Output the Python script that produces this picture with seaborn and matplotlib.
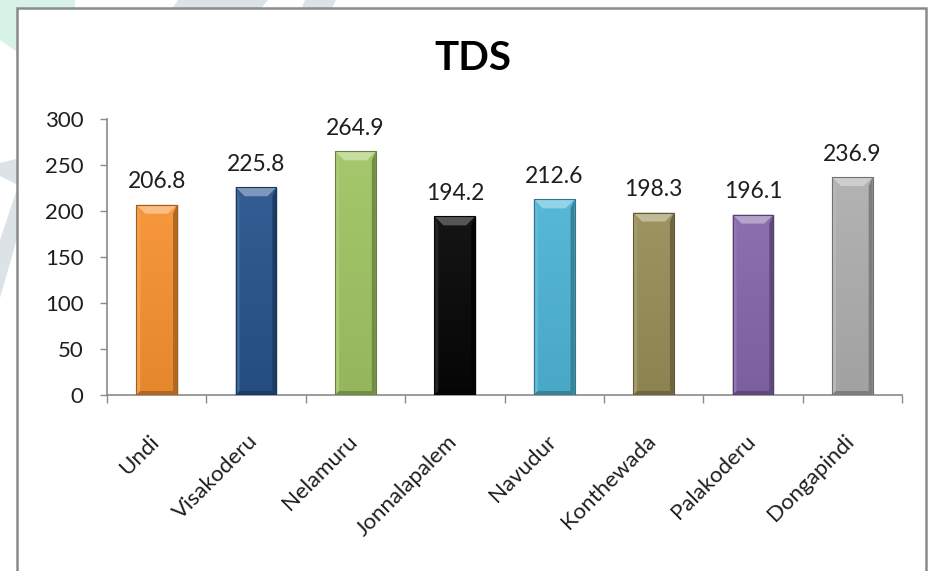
import numpy as np
import matplotlib
matplotlib.use("Agg")
import matplotlib.pyplot as plt
import matplotlib.colors as mcolors
import matplotlib.transforms as mtransforms
from matplotlib.patches import Rectangle, Polygon
import seaborn as sns

# --- data -------------------------------------------------------------
sites = ["Undi", "Visakoderu", "Nelamuru", "Jonnalapalem",
         "Navudur", "Konthewada", "Palakoderu", "Dongapindi"]
tds = [206.8, 225.8, 264.9, 194.2, 212.6, 198.3, 196.1, 236.9]
bar_colors = ["#F6912F", "#27538C", "#A0C463", "#060606",
              "#4DB4D4", "#978D57", "#8466AA", "#AEAEAE"]
y_ticks = [0, 50, 100, 150, 200, 250, 300]

W, H = 934, 571
sns.set_theme(style="white")
plt.rcParams["font.family"] = ["Lato", "DejaVu Sans"]

fig = plt.figure(figsize=(W / 100, H / 100), dpi=100)
fig.patch.set_facecolor("white")


def px(x, y):
    """pixel position (top-left origin) -> figure fraction"""
    return (x / W, 1 - y / H)


# faint background logo shapes around the chart frame
for pts, col in [
    ([(0, 0), (75, 0), (75, 10), (17, 52), (0, 40)], "#D9F2E8"),
    ([(178, 0), (268, 0), (258, 12), (170, 12)], "#DCE3E6"),
    ([(305, 0), (336, 0), (330, 12), (300, 12)], "#DCE3E6"),
    ([(0, 163), (20, 158), (20, 186), (0, 176)], "#DCE3E6"),
    ([(20, 180), (20, 228), (0, 298), (0, 240)], "#DCE3E6"),
]:
    fig.patches.append(Polygon([px(*p) for p in pts], closed=True,
                               transform=fig.transFigure, facecolor=col,
                               edgecolor="none", zorder=0))

# chart frame
x0f, y0f = px(17, 8)
fig.patches.append(Rectangle((x0f, -0.05), 909 / W, y0f + 0.05,
                             transform=fig.transFigure, facecolor="white",
                             edgecolor="#8A8A8A", linewidth=1.8, zorder=1))

ax = fig.add_axes([107 / W, (H - 395) / H, (902 - 107) / W, (395 - 119) / H])
ax.set_facecolor("none")
ax.set_zorder(2)

sns.barplot(x=sites, y=tds, hue=sites, palette=bar_colors, legend=False,
            width=0.41, ax=ax, saturation=1)

ax.set_ylim(0, 300)
ax.set_xlim(-0.5, len(sites) - 0.5)
ax.set_yticks(y_ticks)
ax.set_yticklabels([str(v) for v in y_ticks], fontsize=16, color="#1E1E1E")

# category boundary ticks on the x axis
ax.set_xticks(np.arange(len(sites)))
ax.set_xticks(np.arange(len(sites) + 1) - 0.5, minor=True)
ax.tick_params(axis="x", which="major", length=0, pad=26)
ax.tick_params(axis="x", which="minor", length=6, width=1, color="#8A8A8A",
               direction="out", bottom=True)
ax.tick_params(axis="y", which="major", length=5, width=1, color="#8A8A8A",
               direction="out", left=True, pad=12)
ax.set_xticklabels(sites, rotation=45, ha="right", fontsize=16,
                   color="#1E1E1E")
shift = mtransforms.ScaledTranslation(6 / 100, 0, fig.dpi_scale_trans)
for lab in ax.get_xticklabels():
    lab.set_transform(lab.get_transform() + shift)

for side in ["top", "right"]:
    ax.spines[side].set_visible(False)
for side in ["left", "bottom"]:
    ax.spines[side].set_color("#8A8A8A")
    ax.spines[side].set_linewidth(1.2)
ax.set_xlabel("")
ax.set_ylabel("")
ax.grid(False)


def mix(c, other, t):
    a = np.array(mcolors.to_rgb(c))
    b = np.array(mcolors.to_rgb(other))
    return tuple(a * (1 - t) + b * t)


# bevelled bar faces
ppx = (len(sites)) / (902 - 107)     # data units per pixel, x
ppy = 300 / (395 - 119)              # data units per pixel, y
for patch, col, val in zip(ax.patches, bar_colors, tds):
    bx0 = patch.get_x()
    bw = patch.get_width()
    bh = patch.get_height()
    bx1 = bx0 + bw
    patch.set_edgecolor("none")
    patch.set_zorder(3)

    # soft shadow
    ax.add_patch(Rectangle((bx0 + 1.5 * ppx, -0.5 * ppy), bw, bh,
                           facecolor="#000000", alpha=0.12,
                           edgecolor="none", zorder=2.5))

    # vertical gradient on the face
    top_c = mix(col, "white", 0.06)
    bot_c = mix(col, "black", 0.07)
    grad = np.linspace(0, 1, 64)[:, None]
    rgb = np.array(bot_c)[None, None, :] * (1 - grad[..., None]) + \
        np.array(top_c)[None, None, :] * grad[..., None]
    rgb = np.repeat(rgb, 2, axis=1)
    im = ax.imshow(rgb, extent=[bx0, bx1, 0, bh], origin="lower",
                   aspect="auto", zorder=3.1, interpolation="bilinear")
    im.set_clip_path(patch)

    tb = 9      # top bevel size in px
    sb = 4      # side bevel size in px
    light = mix(col, "white", 0.40) if col != "#060606" else "#555555"
    dark = mix(col, "black", 0.28)
    side_l = mix(col, "white", 0.12)
    polys = [
        ([(bx0, bh), (bx1, bh), (bx1 - tb * ppx, bh - tb * ppy),
          (bx0 + tb * ppx, bh - tb * ppy)], light),
        ([(bx1, bh), (bx1, 0), (bx1 - sb * ppx, sb * ppy),
          (bx1 - sb * ppx, bh - tb * ppy)], dark),
        ([(bx0, bh), (bx0, 0), (bx0 + sb * ppx, sb * ppy),
          (bx0 + sb * ppx, bh - tb * ppy)], side_l),
        ([(bx0, 0), (bx1, 0), (bx1 - sb * ppx, sb * ppy),
          (bx0 + sb * ppx, sb * ppy)], dark),
    ]
    for pts, c in polys:
        ax.add_patch(Polygon(pts, closed=True, facecolor=c,
                             edgecolor="none", zorder=3.2))
    ax.add_patch(Rectangle((bx0, 0), bw, bh, facecolor="none",
                           edgecolor=mix(col, "black", 0.35),
                           linewidth=0.8, zorder=3.3))

    ax.annotate(f"{val:.1f}", xy=(bx0 + bw / 2, val), xytext=(0, 9),
                textcoords="offset points", ha="center", va="bottom",
                fontsize=16.5, color="#1E1E1E", zorder=4)

fig.text(472.5 / W, 1 - 58 / H, "TDS", ha="center", va="center",
         fontsize=29, fontweight="bold", color="black")

fig.savefig("out.png", dpi=100, facecolor="white")
